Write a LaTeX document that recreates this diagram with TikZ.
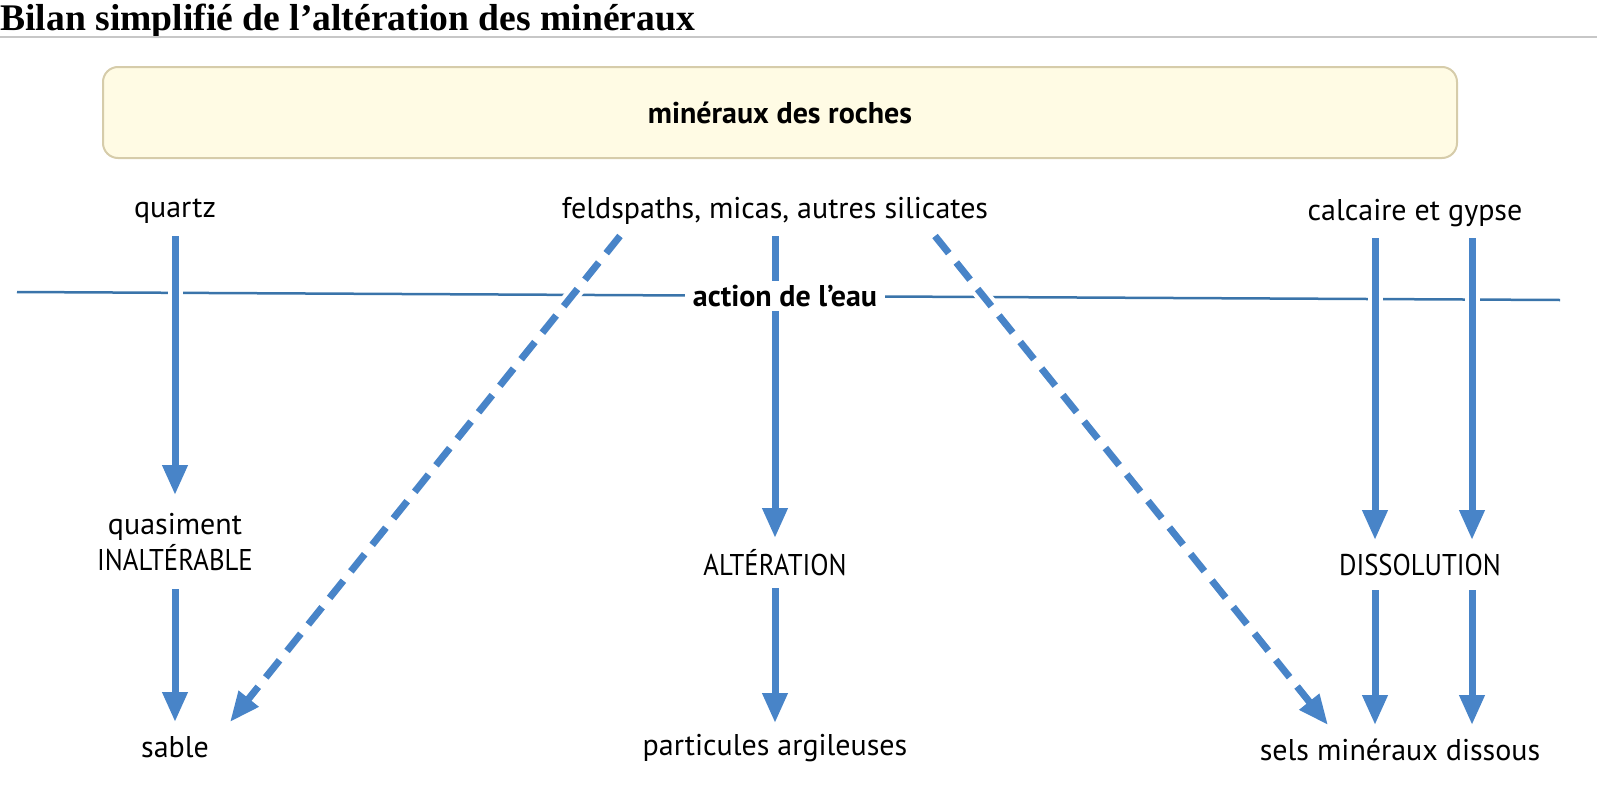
\documentclass[tikz,border=0pt]{standalone}
\usepackage{fontspec}
\usepackage{graphicx}
\setmainfont{PT Sans}
\newfontfamily\titrefont{Liberation Serif}
\usetikzlibrary{arrows.meta, positioning}
\definecolor{bleu}{RGB}{72,132,200}
\definecolor{bleutrait}{RGB}{58,116,170}
\definecolor{creme}{RGB}{255,251,228}
\definecolor{beige}{RGB}{214,204,170}
\newcommand{\etroit}[1]{\scalebox{0.89}[1]{#1}}
\tikzstyle{every picture} = [x=0.5pt, y=-0.5pt]
\tikzstyle{etiq} = [font=\fontsize{15pt}{18pt}\selectfont, minimum height=25pt, inner sep=0pt, outer sep=0pt, align=center]
\tikzstyle{fleche} = [-{Triangle[length=15pt, width=12pt]}, draw=bleu, line width=3.5pt, preaction={draw=white, line width=7.5pt, solid, -}]
\tikzstyle{pointille} = [fleche, dash pattern=on 11pt off 6pt]

\begin{document}
\begin{tikzpicture}
            \useasboundingbox (0,0) rectangle (1597,798);
            \node (titre) [anchor=base west, inner sep=0pt, font=\fontsize{18.8pt}{22pt}\titrefont\bfseries] at (0,30) {Bilan simplifié de l’altération des minéraux};
            \coordinate (filetG) at (0,37);
            \coordinate (filetD) at (1597,37);
            \draw[black!22, line width=0.6pt] (filetG) -- (filetD);

            \node (roches) [draw=beige, fill=creme, line width=1pt, rounded corners=7.5pt, minimum width=677pt, minimum height=45.5pt, font=\fontsize{15pt}{18pt}\selectfont\bfseries] at (780,112.5) {minéraux des roches};

            \node (quartz) [etiq] at (175,211) {quartz};
            \node (feld) [etiq] at (775,211) {feldspaths, micas, autres silicates};
            \node (calc) [etiq] at (1415,213) {calcaire et gypse};
            \node (quasi) [etiq, minimum height=47pt, below=129.5pt of quartz] {quasiment\\\etroit{INALTÉRABLE}};
            \node (alt) [etiq, below=151pt of feld] {\etroit{ALTÉRATION}};
            \node (diss) [etiq, below=151pt of calc, xshift=2.5pt] {\etroit{DISSOLUTION}};
            \node (sable) [etiq, below=66.5pt of quasi] {sable};
            \node (partic) [etiq, below=67.5pt of alt] {particules argileuses};
            \node (sels) [etiq, below=67.5pt of diss, xshift=-10pt] {sels minéraux dissous};

            \coordinate (eauG) at (17,292);
            \coordinate (eauD) at (1560,300);
            \draw[bleutrait, line width=1.25pt] (eauG) -- (eauD);

            \path (quartz) edge[fleche] (quasi)
                  (quasi) edge[fleche] (sable)
                  (feld) edge[fleche] (alt)
                  (alt) edge[fleche] (partic)
                  ([xshift=-20pt]calc.south) edge[fleche] ([xshift=-22.5pt]diss.north)
                  ([xshift=28.5pt]calc.south) edge[fleche] ([xshift=26pt]diss.north)
                  ([xshift=-22.5pt]diss.south) edge[fleche] ([xshift=-12.5pt]sels.north)
                  ([xshift=26pt]diss.south) edge[fleche] ([xshift=36pt]sels.north)
                  ([xshift=-77.5pt]feld.south) edge[pointille] ([xshift=27.5pt]sable.north)
                  ([xshift=80pt]feld.south) edge[pointille] ([xshift=-36pt]sels.north);

            \node (eau) [fill=white, inner xsep=4pt, inner ysep=2pt, font=\fontsize{15pt}{18pt}\selectfont\bfseries] at (785,296) {action de l’eau};
        \end{tikzpicture}
\end{document}
